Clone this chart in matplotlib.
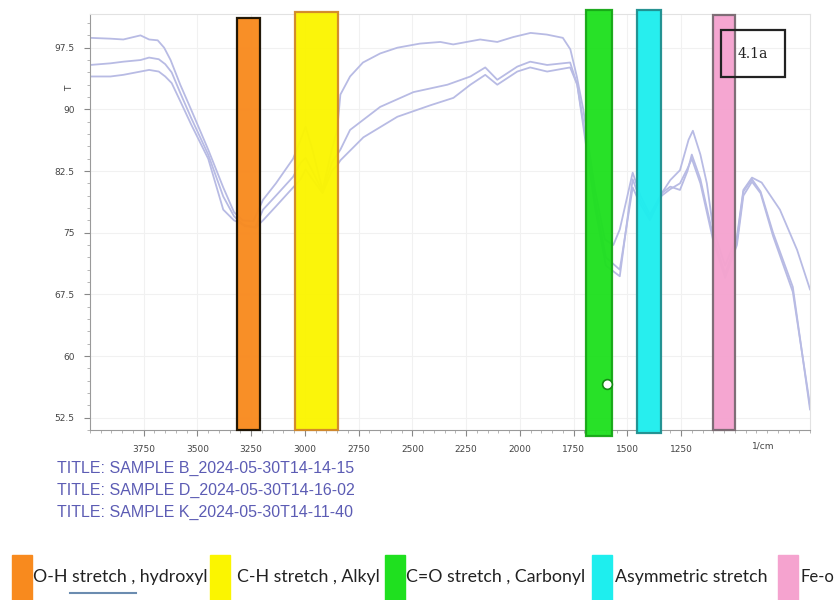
import matplotlib
matplotlib.use("Agg")
import matplotlib.pyplot as plt
from matplotlib.patches import Rectangle
from matplotlib.lines import Line2D
from matplotlib.ticker import MultipleLocator, FixedLocator, FormatStrFormatter

# spectrum traces (wavenumber 1/cm, %T)
wn_b = [4000, 3905, 3845, 3765, 3725, 3685, 3655, 3625, 3580, 3530, 3450, 3380,
        3330, 3290, 3240, 3195, 3135, 3055, 3020, 2997, 2965, 2918, 2875, 2850,
        2835, 2790, 2730, 2650, 2570, 2465, 2370, 2310, 2185, 2105, 2030, 1950,
        1875, 1800, 1765, 1735, 1705, 1650, 1605, 1565, 1535, 1475, 1440, 1395,
        1340, 1300, 1255, 1215, 1195, 1160, 1130, 1100, 1045, 990, 960, 920,
        875, 790, 710, 650]
t_b = [98.7, 98.6, 98.5, 99.0, 98.5, 98.4, 97.5, 96.0, 93.0, 90.0, 85.1, 80.5,
       77.5, 76.5, 76.4, 79.0, 81.0, 84.0, 86.3, 87.9, 85.1, 80.2, 85.1, 87.5,
       91.8, 94.0, 95.7, 96.8, 97.5, 98.0, 98.2, 97.9, 98.5, 98.2, 98.8, 99.3,
       99.1, 98.7, 97.3, 94.0, 90.0, 80.2, 74.2, 73.5, 75.4, 82.3, 79.6, 77.2,
       79.8, 81.4, 82.6, 86.3, 87.4, 84.5, 81.0, 75.4, 71.0, 74.5, 80.2, 81.7,
       81.1, 77.8, 72.9, 68.1]

wn_d = [4000, 3905, 3845, 3765, 3725, 3680, 3650, 3620, 3580, 3530, 3450, 3380,
        3330, 3280, 3230, 3195, 3135, 3055, 3020, 2997, 2965, 2918, 2875, 2850,
        2835, 2790, 2650, 2495, 2337, 2230, 2161, 2105, 2012, 1952, 1873, 1766,
        1733, 1705, 1650, 1600, 1535, 1475, 1440, 1395, 1340, 1300, 1255, 1220,
        1200, 1160, 1130, 1100, 1045, 990, 960, 920, 880, 822, 730, 650]
t_d = [95.4, 95.6, 95.8, 96.0, 96.3, 96.1, 95.5, 94.5, 92.0, 89.0, 84.5, 79.4,
       77.0, 75.8, 75.7, 77.8, 79.5, 81.8, 83.5, 84.1, 82.5, 80.0, 83.5, 84.5,
       85.1, 87.5, 90.3, 92.1, 93.0, 94.0, 95.1, 93.6, 95.2, 95.8, 95.4, 95.7,
       93.0, 88.0, 78.0, 71.0, 69.7, 81.5, 79.0, 76.8, 79.8, 80.6, 80.2, 82.5,
       84.5, 81.5, 78.0, 74.5, 70.0, 74.0, 80.0, 81.5, 80.0, 75.0, 68.4, 53.5]

wn_k = [4000, 3905, 3845, 3765, 3725, 3680, 3650, 3620, 3580, 3530, 3450, 3380,
        3330, 3280, 3230, 3195, 3135, 3055, 3020, 2997, 2965, 2918, 2875, 2850,
        2835, 2728, 2570, 2416, 2309, 2230, 2161, 2105, 2012, 1952, 1873, 1766,
        1733, 1705, 1650, 1600, 1535, 1475, 1440, 1395, 1340, 1300, 1255, 1220,
        1200, 1160, 1130, 1100, 1045, 990, 960, 920, 880, 822, 730, 650]
t_k = [94.0, 94.0, 94.2, 94.6, 94.8, 94.6, 94.0, 93.2, 91.0, 88.2, 84.0, 77.8,
       76.5, 75.9, 75.6, 76.5, 78.2, 80.5, 81.5, 82.7, 81.5, 79.8, 82.5, 83.2,
       83.8, 86.6, 89.1, 90.5, 91.4, 93.0, 94.2, 93.0, 94.6, 95.1, 94.6, 95.1,
       93.0, 88.5, 79.0, 72.0, 70.5, 80.5, 78.5, 76.5, 79.5, 80.3, 81.0, 82.8,
       84.0, 81.0, 77.5, 74.0, 69.5, 73.5, 79.5, 81.2, 79.8, 74.6, 67.8, 54.0]

traces = [(wn_b, t_b), (wn_d, t_d), (wn_k, t_k)]
titles = ["TITLE: SAMPLE B_2024-05-30T14-14-15",
          "TITLE: SAMPLE D_2024-05-30T14-16-02",
          "TITLE: SAMPLE K_2024-05-30T14-11-40"]

# highlighted regions (left edge, right edge, top) in 1/cm and %T
band_lo = [3315, 3047, 1691, 1454, 1101]
band_hi = [3208, 2846, 1570, 1343, 999]
band_top = [101.1, 101.9, 102.1, 102.1, 101.5]
band_bottom = [51.0, 51.0, 50.3, 50.6, 51.0]
band_names = ["O-H stretch , hydroxyl", "C-H stretch , Alkyl",
              "C=O stretch , Carbonyl", "Asymmetric stretch", "Fe-o"]
band_fill = ["#f88a1e", "#fbf500", "#1fe01f", "#1eeeee", "#f5a3cf"]
band_edge = ["#1a1000", "#d2882a", "#17a817", "#1f8f8f", "#7a6a72"]

y_ticks = [52.5, 60, 67.5, 75, 82.5, 90, 97.5]
x_ticks = [3750, 3500, 3250, 3000, 2750, 2500, 2250, 2000, 1750, 1500, 1250]

fig = plt.figure(figsize=(8.37, 6.0), dpi=100)
ax = fig.add_axes([90 / 837, 170 / 600, 720 / 837, 416 / 600])

for wn, t in traces:
    ax.plot(wn, t, color="#b8bbe4", lw=1.3, zorder=2)

for lo, hi, top, bot, fc, ec in zip(band_lo, band_hi, band_top, band_bottom,
                                    band_fill, band_edge):
    ax.bar((lo + hi) / 2, top - bot, width=lo - hi, bottom=bot, color=fc,
           edgecolor=ec, linewidth=1.6, zorder=3, clip_on=False, alpha=0.96)

ax.plot([1596], [56.6], "o", ms=7, mfc="white", mec="#138a13", mew=1.2,
        zorder=4)

ax.set_xlim(4000, 650)
ax.set_ylim(51.0, 101.6)
ax.xaxis.set_major_locator(FixedLocator(x_ticks))
ax.xaxis.set_minor_locator(MultipleLocator(50))
ax.yaxis.set_major_locator(FixedLocator(y_ticks))
ax.yaxis.set_minor_locator(MultipleLocator(1.5))
ax.yaxis.set_major_formatter(FormatStrFormatter("%g"))
ax.tick_params(which="major", length=4, color="#888888", labelsize=6.5,
               labelcolor="#444444", pad=7)
ax.tick_params(which="minor", length=2.5, color="#aaaaaa")
ax.grid(True, which="major", color="#f1f1f1", lw=0.8, zorder=0)
for side in ["left", "bottom"]:
    ax.spines[side].set_color("#9a9a9a")
for side in ["top", "right"]:
    ax.spines[side].set_color("#e2e2e2")

ax.text(870, -0.038, "1/cm", transform=ax.get_xaxis_transform(), fontsize=6.5,
        color="#444444", ha="center", va="center")
ax.text(-0.028, 92.6, "T", transform=ax.get_yaxis_transform(), fontsize=6.5,
        color="#444444", rotation=90, ha="center", va="center")

ax.add_patch(Rectangle((0.876, 0.849), 0.089, 0.113, transform=ax.transAxes,
                       fill=False, edgecolor="#222222", lw=1.6, zorder=6))
ax.text(0.9205, 0.905, "4.1a", transform=ax.transAxes, fontsize=10,
        family="DejaVu Serif", ha="center", va="center", color="#222222",
        zorder=6)

for i, title in enumerate(titles):
    fig.text(57 / 837, 1 - (468 + 22 * i) / 600, title, fontsize=11.5,
             family="Liberation Sans", color="#5c5cb4", va="center")

# colour key along the bottom
sw_x = [12, 210, 385, 592, 778]
tx_x = [33, 237, 406, 615, 801]
for sx, tx, name, fc in zip(sw_x, tx_x, band_names, band_fill):
    fig.patches.append(Rectangle((sx / 837, 0), 20 / 837, 45 / 600,
                                 transform=fig.transFigure, color=fc))
    fs = 12.8 if name != "Fe-o" else 12.0
    fig.text(tx / 837, 1 - 577 / 600, name, fontsize=fs, family="Lato",
             color="#222222", va="center")
fig.lines.append(Line2D([70 / 837, 136 / 837], [1 - 593 / 600, 1 - 593 / 600],
                        transform=fig.transFigure, color="#6b8cb0", lw=1.5))

fig.savefig("out.png", dpi=100)
